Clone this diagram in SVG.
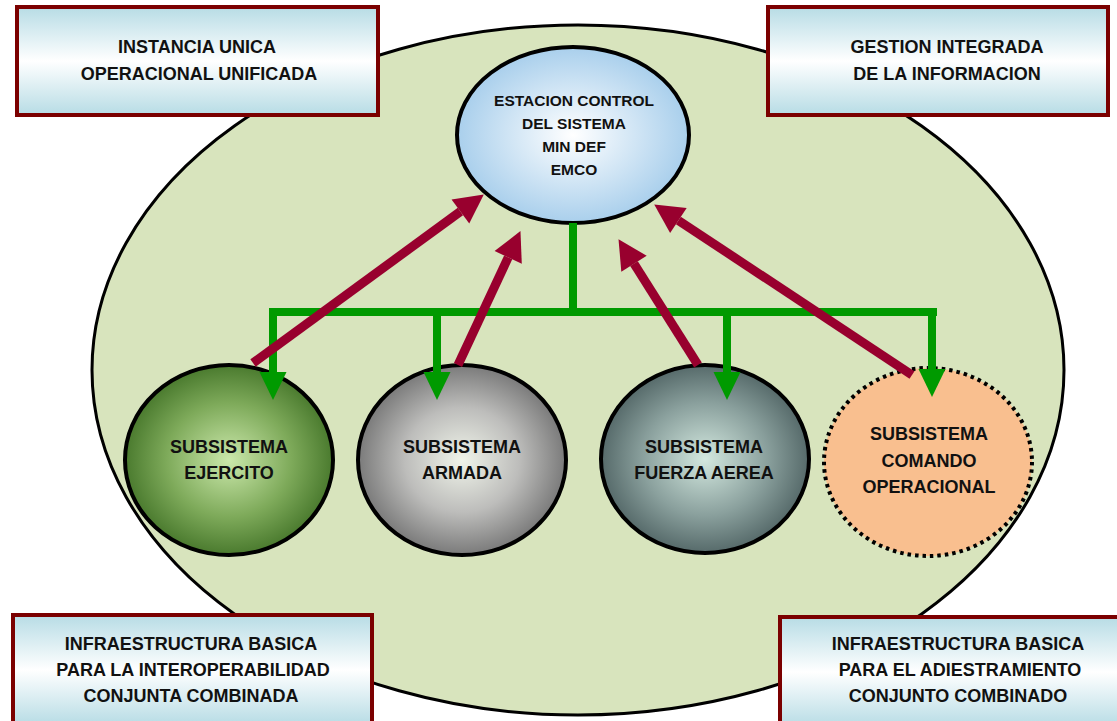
<svg xmlns="http://www.w3.org/2000/svg" width="1117" height="721" viewBox="0 0 1117 721">
<style>
.t{font-family:"Liberation Sans",Arial,sans-serif;font-weight:bold;fill:#111;text-anchor:middle}
.bx{font-size:18px}
.ct{font-size:15.5px}
.box{stroke:#7b0000;stroke-width:4;fill:url(#boxg)}
.sub{stroke:#000;stroke-width:4}
.red{stroke:#98002e;stroke-width:9;fill:none;marker-end:url(#rh)}
.grn{stroke:#009a00;stroke-width:8;fill:none}
.drop{marker-end:url(#gh)}
</style>
<defs>
<linearGradient id="boxg" x1="0" y1="0" x2="0" y2="1">
<stop offset="0" stop-color="#b7dce5"/>
<stop offset="0.5" stop-color="#ffffff"/>
<stop offset="1" stop-color="#b7dce5"/>
</linearGradient>
<radialGradient id="cg" cx="0.5" cy="0.5" r="0.5">
<stop offset="0" stop-color="#ffffff"/>
<stop offset="1" stop-color="#a9cfec"/>
</radialGradient>
<radialGradient id="gg" cx="0.5" cy="0.5" r="0.5">
<stop offset="0" stop-color="#cbe8ab"/>
<stop offset="0.6" stop-color="#7eaa5a"/>
<stop offset="1" stop-color="#4a7a2e"/>
</radialGradient>
<radialGradient id="ag" cx="0.5" cy="0.5" r="0.5">
<stop offset="0" stop-color="#f0f4ea"/>
<stop offset="0.55" stop-color="#bdbdbb"/>
<stop offset="1" stop-color="#7a7a7a"/>
</radialGradient>
<radialGradient id="fg" cx="0.5" cy="0.5" r="0.5">
<stop offset="0" stop-color="#d3e8df"/>
<stop offset="0.6" stop-color="#8aa09d"/>
<stop offset="1" stop-color="#566a6a"/>
</radialGradient>
<marker id="rh" markerUnits="userSpaceOnUse" markerWidth="32" markerHeight="32" viewBox="0 -16 30 32" refX="0" refY="0" orient="auto">
<path d="M0,-15 L29,0 L0,15 z" fill="#98002e"/>
</marker>
<marker id="gh" markerUnits="userSpaceOnUse" markerWidth="30" markerHeight="30" viewBox="0 -15 30 30" refX="0" refY="0" orient="auto">
<path d="M0,-13.5 L28,0 L0,13.5 z" fill="#009a00"/>
</marker>
</defs>

<g id="background">
<ellipse cx="578" cy="370" rx="486" ry="345" fill="#d8e4bd" stroke="#000" stroke-width="3"/>
</g>

<g id="box-instancia">
<rect class="box" x="17" y="7" width="361" height="108"/>
<text class="t bx" x="197" y="53">INSTANCIA UNICA</text>
<text class="t bx" x="199" y="80">OPERACIONAL UNIFICADA</text>
</g>

<g id="box-gestion">
<rect class="box" x="768" y="7" width="340" height="108"/>
<text class="t bx" x="947" y="53">GESTION INTEGRADA</text>
<text class="t bx" x="947" y="80">DE LA INFORMACION</text>
</g>

<g id="box-interoperabilidad">
<rect class="box" x="13" y="615" width="359" height="110"/>
<text class="t bx" x="191" y="650">INFRAESTRUCTURA BASICA</text>
<text class="t bx" x="193" y="676">PARA LA INTEROPERABILIDAD</text>
<text class="t bx" x="191" y="702">CONJUNTA COMBINADA</text>
</g>

<g id="box-adiestramiento">
<rect class="box" x="780" y="617" width="345" height="110"/>
<text class="t bx" x="958" y="650">INFRAESTRUCTURA BASICA</text>
<text class="t bx" x="960" y="676">PARA EL ADIESTRAMIENTO</text>
<text class="t bx" x="958" y="702">CONJUNTO COMBINADO</text>
</g>

<g id="estacion-control">
<ellipse cx="573" cy="135" rx="116" ry="88" fill="url(#cg)" stroke="#000" stroke-width="4"/>
<text class="t ct" x="574" y="106">ESTACION CONTROL</text>
<text class="t ct" x="574" y="129">DEL SISTEMA</text>
<text class="t ct" x="574" y="152">MIN DEF</text>
<text class="t ct" x="574" y="175">EMCO</text>
</g>

<g id="sub-ejercito">
<ellipse class="sub" cx="229" cy="460" rx="104" ry="95" fill="url(#gg)"/>
<text class="t bx" x="229" y="453">SUBSISTEMA</text>
<text class="t bx" x="229" y="479">EJERCITO</text>
</g>

<g id="sub-armada">
<ellipse class="sub" cx="462" cy="460" rx="104" ry="95" fill="url(#ag)"/>
<text class="t bx" x="462" y="453">SUBSISTEMA</text>
<text class="t bx" x="462" y="479">ARMADA</text>
</g>

<g id="sub-fuerza-aerea">
<ellipse class="sub" cx="705" cy="459" rx="104" ry="94" fill="url(#fg)"/>
<text class="t bx" x="704" y="453">SUBSISTEMA</text>
<text class="t bx" x="704" y="479">FUERZA AEREA</text>
</g>

<g id="sub-comando">
<ellipse cx="928" cy="462" rx="104" ry="94" fill="#f9bf8f" stroke="#000" stroke-width="4" stroke-dasharray="3.5 4"/>
<text class="t bx" x="929" y="440">SUBSISTEMA</text>
<text class="t bx" x="929" y="467">COMANDO</text>
<text class="t bx" x="929" y="493">OPERACIONAL</text>
</g>

<g id="connectors">
<path class="grn" d="M573,223 V312"/>
<path class="grn" d="M269,312 H937"/>
<path class="grn drop" d="M273,308 V372"/>
<path class="grn drop" d="M437,312 V372"/>
<path class="grn drop" d="M727,312 V372"/>
<path class="grn drop" d="M932,308 V369"/>
<path class="red" d="M253,363 L460.4,211.5"/>
<path class="red" d="M458,365 L508.2,257.4"/>
<path class="red" d="M698,365 L634,263.7"/>
<path class="red" d="M912,375 L678.4,220.4"/>
</g>
</svg>
